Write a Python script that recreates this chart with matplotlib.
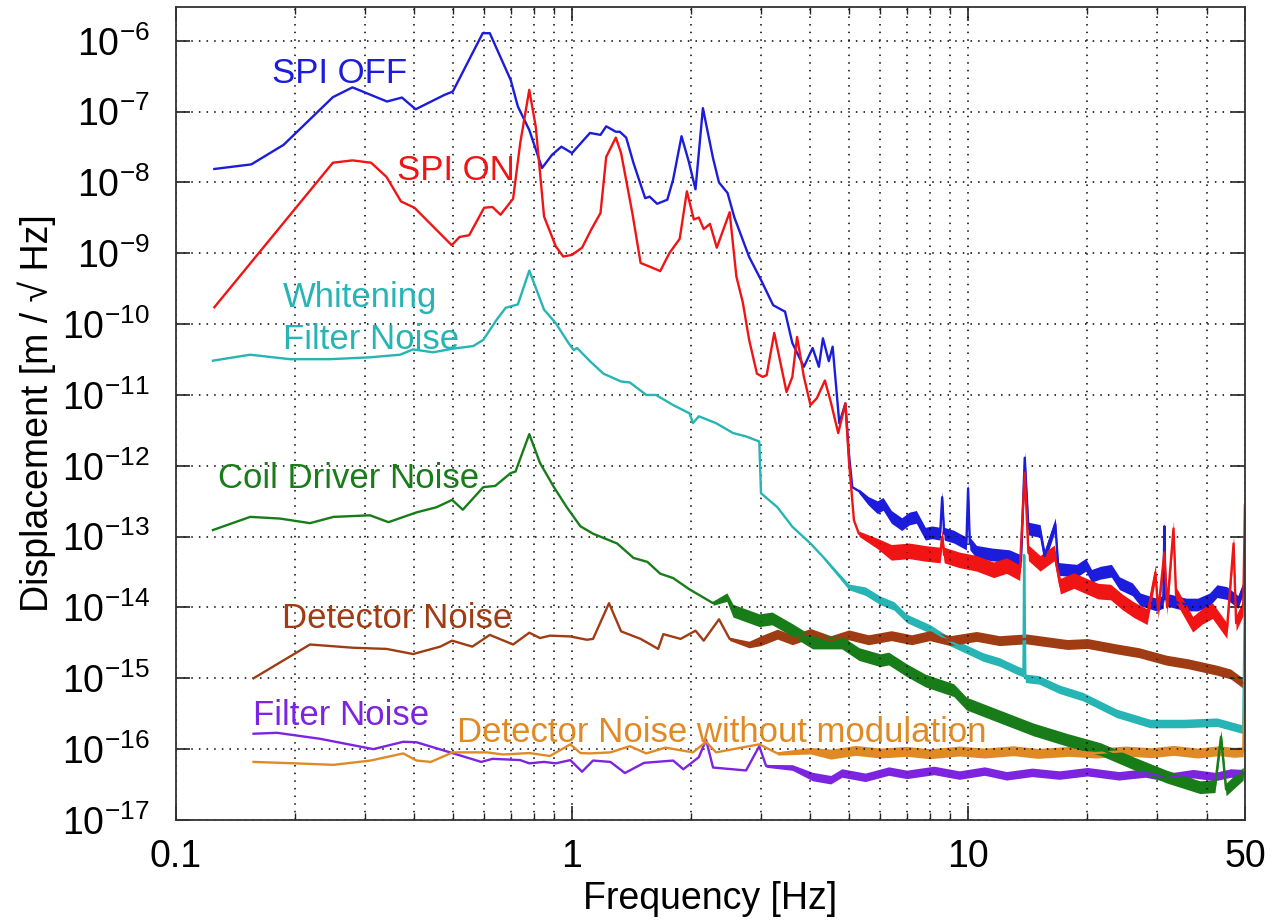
import numpy as np
import matplotlib.pyplot as plt

plt.rcParams['font.family'] = ['Liberation Sans', 'DejaVu Sans']
plt.rcParams['mathtext.fontset'] = 'custom'
plt.rcParams['mathtext.rm'] = 'Liberation Sans'
plt.rcParams['mathtext.it'] = 'Liberation Sans:italic'
plt.rcParams['mathtext.bf'] = 'Liberation Sans:bold'

# SPI OFF
off_f = [0.125, 0.155, 0.187, 0.249, 0.279, 0.341, 0.372, 0.403, 0.476, 0.5,
         0.595, 0.62, 0.70, 0.73, 0.78, 0.84, 0.89, 0.94, 1.0, 1.11,
         1.18, 1.22, 1.29, 1.32, 1.37, 1.43, 1.53, 1.57, 1.64, 1.74,
         1.80, 1.89, 1.97, 2.05, 2.14, 2.27, 2.35, 2.47, 2.57, 2.8,
         3.0, 3.22, 3.45, 3.6, 3.85, 4.05, 4.2, 4.3, 4.45, 4.55,
         4.73, 4.9, 5.0, 5.1, 5.3, 5.6, 5.9, 6.1, 6.4, 6.8,
         7.1, 7.4, 7.8, 8.1, 8.5, 8.6, 8.7, 9.2, 9.9, 10.0,
         10.1, 10.5, 11.5, 12.7, 13.6, 13.9, 14.2, 15.2, 15.6, 16.6,
         16.9, 18.8, 19.8, 20.5, 21.6, 23.0, 24.1, 26.0, 27.2, 29.9,
         31.1, 31.3, 31.5, 35.5, 38.0, 40.7, 42.5, 45.0, 48.0, 49.7]
off_v = [1.55e-8, 1.8e-8, 3.4e-8, 1.6e-7, 2.2e-7, 1.39e-7, 1.58e-7, 1.08e-7, 1.72e-7, 1.92e-7,
         1.28e-6, 1.28e-6, 2.8e-7, 1.18e-7, 5.5e-8, 1.6e-8, 2.45e-8, 3.2e-8, 2.6e-8, 5e-8,
         4.7e-8, 6.2e-8, 5.2e-8, 5.2e-8, 4.3e-8, 1.87e-8, 6e-9, 6.3e-9, 5e-9, 5.7e-9,
         1.1e-8, 4.5e-8, 2e-8, 8e-9, 1.12e-7, 2.2e-8, 1e-8, 7.1e-9, 3.2e-9, 8.9e-10,
         4.2e-10, 1.85e-10, 1.5e-10, 5.4e-11, 2.5e-11, 4.6e-11, 2.5e-11, 6.3e-11, 3e-11, 4.8e-11,
         4e-12, 7.6e-12, 1.5e-12, 5e-13, 4.4e-13, 3.2e-13, 2.6e-13, 2.9e-13, 1.9e-13, 1.5e-13,
         1.8e-13, 1.9e-13, 1.1e-13, 1.15e-13, 1.1e-13, 3.6e-13, 1.1e-13, 1e-13, 8e-14, 4.8e-13,
         8e-14, 6.1e-14, 5.6e-14, 5.3e-14, 4.5e-14, 1.3e-12, 1.3e-13, 1.2e-13, 5.3e-14, 1.5e-13,
         3.5e-14, 3.3e-14, 4e-14, 2.8e-14, 3.1e-14, 3.3e-14, 2.2e-14, 1.8e-14, 1.3e-14, 1.1e-14,
         1.2e-14, 1.4e-13, 1.3e-14, 1.1e-14, 1.1e-14, 1.3e-14, 1.7e-14, 1.6e-14, 1.2e-14, 2e-14]

# SPI ON
on_f = [0.125, 0.249, 0.279, 0.311, 0.34, 0.37, 0.40, 0.497, 0.52, 0.55,
        0.60, 0.63, 0.66, 0.71, 0.74, 0.78, 0.81, 0.85, 0.91, 0.95,
        1.0, 1.06, 1.12, 1.18, 1.22, 1.29, 1.33, 1.42, 1.49, 1.59,
        1.67, 1.76, 1.87, 1.95, 2.03, 2.09, 2.15, 2.23, 2.32, 2.5,
        2.6, 2.7, 2.8, 2.93, 3.03, 3.1, 3.24, 3.48, 3.6, 3.7,
        3.85, 4.0, 4.15, 4.35, 4.5, 4.7, 4.9, 5.0, 5.15, 5.3,
        5.9, 6.4, 7.1, 7.8, 8.5, 8.6, 8.7, 9.5, 10.5, 11.6,
        12.5, 13.5, 13.9, 14.2, 15.2, 16.5, 17.1, 18.5, 19.9, 21.3,
        22.9, 24.5, 26.2, 28.3, 29.7, 30.2, 31.3, 31.8, 33.0, 33.5,
        36.9, 39.0, 41.4, 45.0, 46.8, 47.5, 49.5, 50.0]
on_v = [1.73e-10, 1.9e-8, 2.05e-8, 1.9e-8, 1.2e-8, 5.4e-9, 4.4e-9, 1.3e-9, 1.7e-9, 1.8e-9,
        4.4e-9, 4.5e-9, 3.5e-9, 5.9e-9, 3.6e-8, 2.03e-7, 6.1e-8, 3.3e-9, 1.25e-9, 9e-10,
        9.5e-10, 1.2e-9, 2.2e-9, 3.7e-9, 2.3e-8, 4.3e-8, 2.6e-8, 3.7e-9, 7.3e-10, 6.3e-10,
        5.6e-10, 1e-9, 1.6e-9, 7.5e-9, 3e-9, 3.2e-9, 2.2e-9, 2.6e-9, 1.2e-9, 3.8e-9,
        4.7e-10, 2e-10, 6e-11, 2e-11, 1.8e-11, 1.9e-11, 7.5e-11, 1.1e-11, 1.8e-11, 6.6e-11,
        1.8e-11, 7.2e-12, 9e-12, 1.6e-11, 8e-12, 2.9e-12, 7.6e-12, 1.2e-12, 1.7e-13, 1.1e-13,
        8e-14, 6e-14, 6.3e-14, 5.8e-14, 5.5e-14, 1e-13, 5.5e-14, 4.7e-14, 4.2e-14, 3.4e-14,
        3.9e-14, 3.1e-14, 8e-13, 5.9e-14, 4.2e-14, 5.9e-14, 2e-14, 2.4e-14, 2e-14, 1.7e-14,
        1.65e-14, 1.2e-14, 9.3e-15, 7.4e-15, 3.1e-14, 9e-15, 6e-14, 1e-14, 1.3e-13, 1.5e-14,
        5.8e-15, 7.5e-15, 9e-15, 4.7e-15, 8e-14, 6e-15, 1e-14, 2.8e-13]

# Whitening filter noise
wf_f = [0.124, 0.154, 0.194, 0.245, 0.309, 0.368, 0.397, 0.446, 0.5, 0.563,
        0.597, 0.645, 0.68, 0.73, 0.78, 0.85, 0.91, 0.98, 1.01, 1.03,
        1.11, 1.2, 1.33, 1.40, 1.54, 1.63, 1.8, 1.98, 2.02, 2.09,
        2.31, 2.55, 2.75, 2.97, 3.0, 3.3, 3.6, 4.0, 4.3, 5.0,
        5.5, 6.0, 6.5, 7.0, 8.0, 9.0, 10.9, 12.0, 13.3, 13.8,
        13.85, 13.95, 15.1, 17.0, 19.5, 23.7, 28.8, 35.0, 42.5, 49.5,
        50.0]
wf_v = [3.05e-11, 3.7e-11, 3.2e-11, 3.2e-11, 3.4e-11, 3.7e-11, 4.4e-11, 4e-11, 4.5e-11, 4.9e-11,
        6e-11, 1.15e-10, 1.7e-10, 1.9e-10, 5.7e-10, 1.6e-10, 1.03e-10, 5.4e-11, 4.3e-11, 4.6e-11,
        3e-11, 2e-11, 1.55e-11, 1.5e-11, 1e-11, 1e-11, 7.2e-12, 5.5e-12, 4e-12, 5e-12,
        4e-12, 2.9e-12, 2.6e-12, 2.2e-12, 4.1e-13, 2.6e-13, 1.38e-13, 8e-14, 5.2e-14, 1.95e-14,
        1.7e-14, 1.26e-14, 1.05e-14, 7e-15, 5e-15, 3.3e-15, 2e-15, 1.7e-15, 1.3e-15, 1.2e-15,
        5.5e-14, 1e-15, 9.5e-16, 7e-16, 5.5e-16, 3.2e-16, 2.3e-16, 2.3e-16, 2.4e-16, 1.9e-16,
        1.5e-14]

# Coil driver noise
cd_f = [0.124, 0.154, 0.183, 0.218, 0.25, 0.309, 0.344, 0.405, 0.455, 0.498,
        0.53, 0.597, 0.64, 0.70, 0.72, 0.78, 0.83, 0.9, 0.97, 1.05,
        1.13, 1.3, 1.43, 1.55, 1.67, 1.8, 1.98, 2.27, 2.46, 2.55,
        2.97, 3.2, 3.6, 4.05, 4.8, 5.3, 6.0, 6.3, 7.0, 7.8,
        9.2, 9.9, 12.0, 14.6, 17.8, 21.6, 26.2, 31.7, 38.5, 42.0,
        43.5, 44.8, 49.5]
cd_v = [1.24e-13, 1.9e-13, 1.8e-13, 1.55e-13, 1.9e-13, 2e-13, 1.6e-13, 2.2e-13, 2.6e-13, 3.3e-13,
        2.4e-13, 5e-13, 5.2e-13, 7.9e-13, 8.3e-13, 2.8e-12, 1.1e-12, 5e-13, 2.6e-13, 1.4e-13,
        1.1e-13, 8e-14, 5e-14, 4.4e-14, 3e-14, 2.6e-14, 1.8e-14, 1.15e-14, 1.4e-14, 9e-15,
        6.6e-15, 7e-15, 4.8e-15, 3.2e-15, 3.2e-15, 2.2e-15, 1.8e-15, 1.9e-15, 1.3e-15, 9.3e-16,
        6.8e-16, 4.4e-16, 2.9e-16, 1.9e-16, 1.35e-16, 1e-16, 6.3e-17, 4.1e-17, 2.9e-17, 3e-17,
        1.5e-16, 2.7e-17, 4.5e-17]

# Detector noise
dn_f = [0.157, 0.218, 0.28, 0.34, 0.397, 0.465, 0.498, 0.56, 0.62, 0.71,
        0.78, 0.83, 0.88, 0.99, 1.09, 1.13, 1.24, 1.33, 1.49, 1.65,
        1.70, 1.88, 2.05, 2.15, 2.35, 2.5, 2.8, 3.0, 3.3, 3.6,
        4.0, 4.5, 5.0, 5.6, 6.4, 7.2, 8.0, 9.0, 10.5, 12.0,
        14.0, 17.8, 20.0, 23.7, 27.0, 31.7, 36.0, 42.5, 46.0, 49.5]
dn_v = [1e-15, 3e-15, 2.7e-15, 2.6e-15, 2.2e-15, 2.8e-15, 3.4e-15, 2.8e-15, 4.1e-15, 3e-15,
        4.4e-15, 3.7e-15, 4e-15, 3.9e-15, 3.5e-15, 3.6e-15, 1.15e-14, 4.6e-15, 3.6e-15, 2.6e-15,
        4.2e-15, 3.6e-15, 4.7e-15, 3.4e-15, 6.8e-15, 3.6e-15, 3e-15, 3.4e-15, 4.2e-15, 3.5e-15,
        4.3e-15, 3.4e-15, 4.1e-15, 3.5e-15, 4e-15, 3.5e-15, 4e-15, 3.4e-15, 3.9e-15, 3.4e-15,
        3.6e-15, 3e-15, 3.1e-15, 2.6e-15, 2.3e-15, 1.8e-15, 1.6e-15, 1.3e-15, 1.15e-15, 8.5e-16]

# Filter noise
fn_f = [0.157, 0.18, 0.231, 0.315, 0.375, 0.405, 0.492, 0.59, 0.63, 0.74,
        0.78, 0.85, 0.91, 0.99, 1.06, 1.13, 1.25, 1.36, 1.52, 1.8,
        1.91, 2.09, 2.18, 2.27, 2.75, 2.97, 3.09, 3.6, 4.05, 4.5,
        4.8, 5.5, 6.3, 7.0, 8.2, 9.5, 11.0, 12.5, 14.5, 17.0,
        20.0, 24.0, 28.0, 32.0, 37.0, 42.0, 46.0, 49.5]
fn_v = [1.65e-16, 1.7e-16, 1.4e-16, 1e-16, 1.27e-16, 1.25e-16, 9e-17, 6.6e-17, 7.3e-17, 7e-17,
        6.3e-17, 6.6e-17, 6.3e-17, 7e-17, 4.8e-17, 6.9e-17, 6.6e-17, 4.6e-17, 6.4e-17, 6.9e-17,
        5.2e-17, 7.7e-17, 1.35e-16, 5.5e-17, 5e-17, 1.1e-16, 5.8e-17, 5.5e-17, 4.1e-17, 3.7e-17,
        4.6e-17, 4e-17, 4.9e-17, 4.4e-17, 5e-17, 4.3e-17, 4.9e-17, 4.2e-17, 4.7e-17, 4.3e-17,
        4.8e-17, 4.2e-17, 4.6e-17, 4e-17, 4.5e-17, 4.1e-17, 4.6e-17, 4.5e-17]

# Detector noise without modulation
dm_f = [0.157, 0.2, 0.25, 0.31, 0.375, 0.405, 0.44, 0.5, 0.61, 0.67,
        0.78, 0.88, 0.99, 1.05, 1.11, 1.25, 1.4, 1.54, 1.72, 2.02,
        2.18, 2.31, 2.97, 3.3, 4.0, 4.5, 5.2, 6.0, 7.0, 8.0,
        9.5, 11.0, 13.0, 15.0, 18.0, 21.0, 25.0, 29.0, 33.0, 38.0,
        43.0, 47.0, 49.5, 50.0]
dm_v = [6.6e-17, 6.3e-17, 6e-17, 6.9e-17, 8.7e-17, 6.9e-17, 6.6e-17, 9e-17, 9e-17, 8.4e-17,
        8.8e-17, 8e-17, 1.17e-16, 8.8e-17, 8.7e-17, 9e-17, 1.1e-16, 8.7e-17, 1.05e-16, 9e-17,
        1.27e-16, 9e-17, 1.17e-16, 8.7e-17, 9.5e-17, 8.5e-17, 9.6e-17, 8.8e-17, 9.3e-17, 8.6e-17,
        9.4e-17, 8.8e-17, 9.5e-17, 8.7e-17, 9.3e-17, 8.8e-17, 9.4e-17, 8.9e-17, 9.6e-17, 8.8e-17,
        9.5e-17, 9e-17, 9.2e-17, 1.5e-15]

fig = plt.figure(figsize=(12.74, 9.21), dpi=100)
ax = fig.add_axes([0.1381, 0.1097, 0.8391, 0.8827])
ax.set_xscale('log')
ax.set_yscale('log')


def trace(f, v, color, noisy_from=None, dex=0.0):
    # dense, noisy part of a spectrum drawn as a band around the trace
    f = np.asarray(f)
    v = np.asarray(v)
    if noisy_from is not None:
        m = f >= noisy_from
        w = dex * np.minimum(1.0, (np.arange(m.sum()) + 1) / 3.0)
        ax.fill_between(f[m], v[m] / 10**w, v[m] * 10**w, color=color, lw=0)
    ax.plot(f, v, color=color, lw=1.7)


c_off, c_on = '#1c1cdc', '#f01414'
c_wf, c_cd = '#26b4b4', '#187c18'
c_dn, c_fn, c_dm = '#a03c14', '#7d24e0', '#e08a26'

trace(off_f, off_v, c_off, 5.3, 0.09)
trace(on_f, on_v, c_on, 5.3, 0.11)
trace(wf_f, wf_v, c_wf, 4.3, 0.06)
trace(dn_f, dn_v, c_dn, 2.5, 0.07)
trace(fn_f, fn_v, c_fn, 3.0, 0.06)
trace(dm_f, dm_v, c_dm, 3.0, 0.07)
trace(cd_f, cd_v, c_cd, 2.2, 0.09)

fs = 25
ax.text(0.1746, 2.55e-7, 'SPI OFF', color=c_off, fontsize=fs)
ax.text(0.361, 1.09e-8, 'SPI ON', color=c_on, fontsize=fs)
ax.text(0.1863, 1.77e-10, 'Whitening', color=c_wf, fontsize=fs)
ax.text(0.1863, 4.4e-11, 'Filter Noise', color=c_wf, fontsize=fs)
ax.text(0.1276, 4.8e-13, 'Coil Driver Noise', color=c_cd, fontsize=fs)
ax.text(0.185, 5.07e-15, 'Detector Noise', color=c_dn, fontsize=fs)
ax.text(0.1567, 2.19e-16, 'Filter Noise', color=c_fn, fontsize=fs)
ax.text(0.5117, 1.27e-16, 'Detector Noise without modulation', color=c_dm, fontsize=fs)

ax.set_xlim(0.1, 50)
ax.set_ylim(1e-17, 3e-6)
ax.set_xticks([0.1, 1, 10, 50])
ax.set_xticklabels(['0.1', '1', '10', '50'])
ax.set_xticks([0.2, 0.3, 0.4, 0.5, 0.6, 0.7, 0.8, 0.9,
               2, 3, 4, 5, 6, 7, 8, 9, 20, 30, 40], minor=True)
ax.set_xticklabels([], minor=True)
ax.set_yticks([10.0**k for k in range(-17, -5)])
ax.yaxis.set_minor_locator(plt.NullLocator())

ax.tick_params(which='both', direction='in', top=True, right=True,
               labelsize=27, color='#222222')
ax.tick_params(which='major', length=10, width=1.2)
ax.tick_params(which='minor', length=5, width=1.0)
ax.tick_params(axis='x', pad=14)
ax.tick_params(axis='y', pad=19)

ax.grid(True, which='major', color='k', ls=(0, (1, 4)), lw=1.1)
ax.grid(True, which='minor', axis='x', color='k', ls=(0, (1, 4)), lw=1.1)
for s in ax.spines.values():
    s.set_linewidth(1.3)
    s.set_color('#333333')

ax.set_xlabel('Frequency [Hz]', fontsize=27, labelpad=4)
ax.set_ylabel('Displacement [m / \u221a Hz]', fontsize=27, labelpad=4)

fig.savefig('out.png', dpi=100, facecolor='white')
